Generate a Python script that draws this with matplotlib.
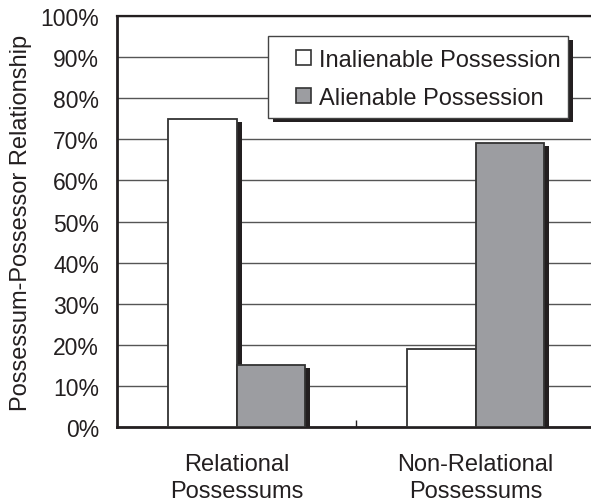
import numpy as np
import matplotlib
matplotlib.use("Agg")
import matplotlib.pyplot as plt
import matplotlib.patheffects as pe
from matplotlib.patches import Patch, Rectangle
from matplotlib.legend_handler import HandlerPatch
from matplotlib.ticker import FuncFormatter

plt.rcParams['font.family'] = ['Liberation Sans', 'DejaVu Sans']

categories = ["Relational\nPossessums", "Non-Relational\nPossessums"]
series_names = ["Inalienable Possession", "Alienable Possession"]
inalienable = [75, 19]
alienable = [15, 69]

ink = '#231f20'
gray_fill = '#9c9da1'
fs = 17

fig = plt.figure(figsize=(5.91, 5.02), dpi=100)
ax = fig.add_axes([0.198, 0.1474, 0.809, 0.8187])

x = np.arange(len(categories)) + 0.5
w = 0.285
shadow = [pe.SimplePatchShadow(offset=(3.6, -2.2), shadow_rgbFace=ink, alpha=1.0), pe.Normal()]

b1 = ax.bar(x - w / 2, inalienable, w, color='white', edgecolor='#333333',
            linewidth=1.3, zorder=3)
b2 = ax.bar(x + w / 2, alienable, w, color=gray_fill, edgecolor='#333333',
            linewidth=1.3, zorder=3)
for bar in list(b1) + list(b2):
    bar.set_path_effects(shadow)

ax.set_xlim(0, 2)
ax.set_ylim(0, 100)
ax.set_yticks(np.arange(0, 101, 10))
ax.yaxis.set_major_formatter(FuncFormatter(lambda v, _: f"{v:.0f}%"))
ax.yaxis.grid(True, color='#555555', linewidth=1.0, zorder=0)
ax.set_axisbelow(True)

ax.set_xticks(x)
ax.set_xticklabels(categories, linespacing=1.3)
ax.set_xticks([1.0], minor=True)
ax.tick_params(axis='x', which='major', length=0, pad=19, labelsize=fs, colors=ink)
ax.tick_params(axis='x', which='minor', direction='in', length=5, width=1, color=ink)
ax.tick_params(axis='y', length=0, pad=13, labelsize=16.5, colors=ink)

for side in ['left', 'bottom']:
    ax.spines[side].set_linewidth(2.0)
    ax.spines[side].set_color(ink)
for side in ['top', 'right']:
    ax.spines[side].set_linewidth(1.6)
    ax.spines[side].set_color(ink)

ax.set_ylabel("Possessum-Possessor Relationship", fontsize=fs, color=ink, labelpad=6)


# small square key at the right end of the handle box, sitting on the text baseline
def square_key(legend, orig_handle, xdescent, ydescent, width, height, fontsize):
    s = 0.62 * fontsize
    return Rectangle((-xdescent + width - s, 0.05 * fontsize), s, s)


keys = [Patch(facecolor='white', edgecolor='#333333', linewidth=1.2),
        Patch(facecolor=gray_fill, edgecolor='#333333', linewidth=1.2)]
leg = ax.legend(keys, series_names, loc='upper left',
                bbox_to_anchor=(268 / 591, 1 - 37 / 502),
                bbox_transform=fig.transFigure, borderaxespad=0, fontsize=fs,
                handler_map={Patch: HandlerPatch(patch_func=square_key)},
                handlelength=1.48, handleheight=1.55, handletextpad=0.34,
                labelspacing=0.34, borderpad=0.32, fancybox=False,
                framealpha=1, edgecolor='#444444')
leg.get_frame().set_linewidth(1.0)
leg.get_frame().set_path_effects([pe.SimplePatchShadow(offset=(3.6, -3.0), shadow_rgbFace=ink, alpha=1.0),
                                  pe.Normal()])
for t in leg.get_texts():
    t.set_color(ink)

fig.savefig("out.png", dpi=100)
